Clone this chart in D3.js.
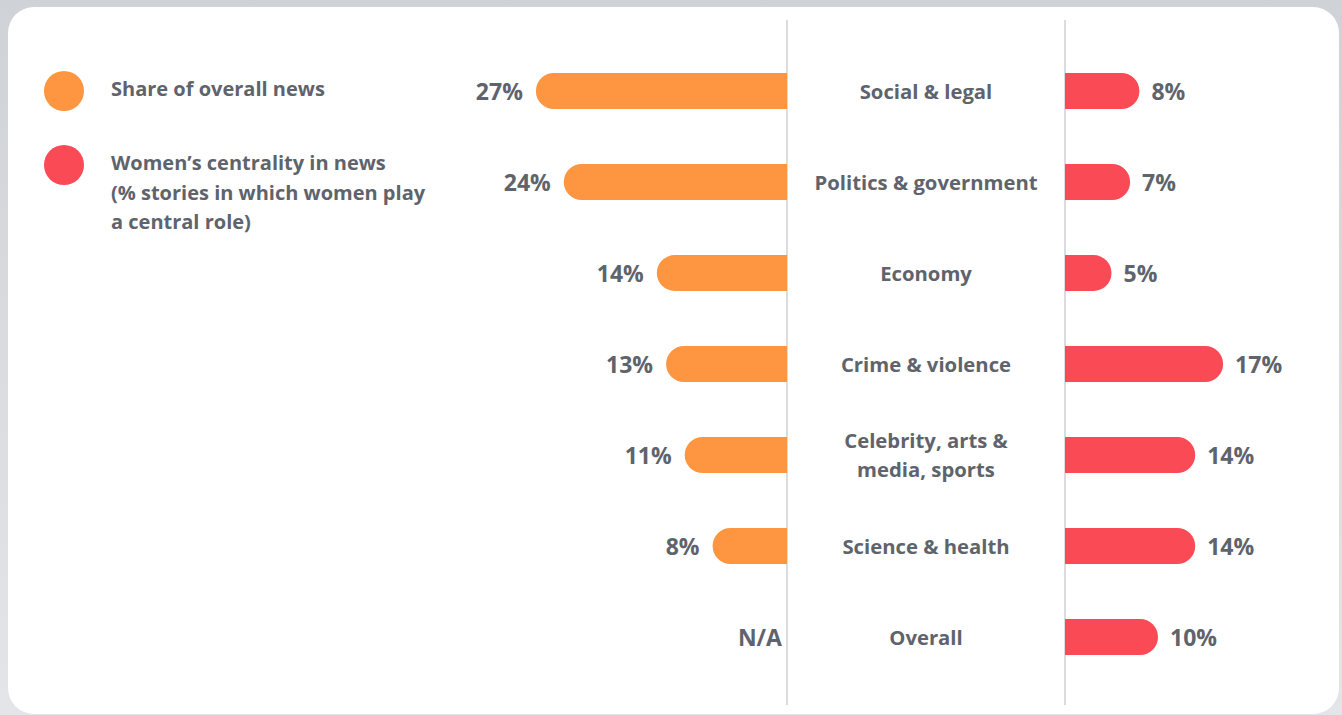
<!DOCTYPE html>
<html>
<head>
<meta charset="utf-8">
<script src="https://cdn.jsdelivr.net/npm/d3@7"></script>
<style>
  html, body { margin: 0; padding: 0; background: #d9dbde; }
  svg { display: block; }
  text { font-family: "Open Sans", Lato, sans-serif; font-weight: 700; fill: #5e636c; }
</style>
</head>
<body>
<svg id="chart" width="1342" height="715"></svg>
<script>
const categories = ["Social & legal", "Politics & government", "Economy", "Crime & violence", "Celebrity, arts &\nmedia, sports", "Science & health", "Overall"];
const shareOfNews = [27, 24, 14, 13, 11, 8, null];
const womenCentrality = [8, 7, 5, 17, 14, 14, 10];
const legendLabels = ["Share of overall news", "Women\u2019s centrality in news\n(% stories in which women play\na central role)"];
const naLabel = "N/A";

const colors = { share: "#fe9541", women: "#f94a56" };

const svg = d3.select("#chart");
const W = 1342, H = 715;

const defs = svg.append("defs");
const g1 = defs.append("linearGradient").attr("id", "bg").attr("x1", 0).attr("y1", 0).attr("x2", 0).attr("y2", 1);
g1.append("stop").attr("offset", "0%").attr("stop-color", "#cfd2d6");
g1.append("stop").attr("offset", "100%").attr("stop-color", "#e4e5e8");
svg.append("rect").attr("width", W).attr("height", H).attr("fill", "url(#bg)");
svg.append("rect").attr("x", 8).attr("y", 7).attr("width", 1331).attr("height", 707).attr("rx", 26).attr("fill", "#ffffff");

const leftAxisX = 787, rightAxisX = 1065;
const centerX = (leftAxisX + rightAxisX) / 2;

const y = d3.scalePoint().domain(d3.range(categories.length)).range([91, 637]);
const barH = 36;

const x = d3.scaleLinear().domain([0, 30]).range([0, 279]);

[leftAxisX, rightAxisX].forEach(lx => {
  svg.append("line").attr("x1", lx).attr("x2", lx).attr("y1", 20).attr("y2", 705)
    .attr("stroke", "#cfd1d4").attr("stroke-width", 1.5);
});

function leftBarPath(v, cy) {
  const w = x(v), r = barH / 2;
  const x0 = leftAxisX - w;
  return `M${leftAxisX},${cy - r} L${x0 + r},${cy - r} A${r},${r} 0 0 0 ${x0 + r},${cy + r} L${leftAxisX},${cy + r} Z`;
}
function rightBarPath(v, cy) {
  const w = x(v), r = barH / 2;
  const x1 = rightAxisX + w;
  return `M${rightAxisX},${cy - r} L${x1 - r},${cy - r} A${r},${r} 0 0 1 ${x1 - r},${cy + r} L${rightAxisX},${cy + r} Z`;
}

const rows = categories.map((c, i) => ({ c, i, s: shareOfNews[i], w: womenCentrality[i] }));

svg.selectAll(".lbar").data(rows.filter(d => d.s != null)).join("path")
  .attr("class", "lbar").attr("d", d => leftBarPath(d.s, y(d.i))).attr("fill", colors.share);
svg.selectAll(".llab").data(rows).join("text")
  .attr("class", "llab")
  .attr("x", d => d.s != null ? leftAxisX - x(d.s) - 13 : leftAxisX - 5)
  .attr("y", d => y(d.i) + 8.5)
  .attr("text-anchor", "end").attr("font-size", 23)
  .text(d => d.s != null ? d.s + "%" : naLabel);

svg.selectAll(".rbar").data(rows).join("path")
  .attr("class", "rbar").attr("d", d => rightBarPath(d.w, y(d.i))).attr("fill", colors.women);
svg.selectAll(".rlab").data(rows).join("text")
  .attr("class", "rlab")
  .attr("x", d => rightAxisX + x(d.w) + 12)
  .attr("y", d => y(d.i) + 8.5)
  .attr("text-anchor", "start").attr("font-size", 23)
  .text(d => d.w + "%");

rows.forEach(d => {
  const lines = d.c.split("\n");
  const lh = 29;
  const t = svg.append("text").attr("text-anchor", "middle").attr("font-size", 20.3)
    .attr("x", centerX);
  lines.forEach((ln, k) => {
    t.append("tspan").attr("x", centerX)
      .attr("y", y(d.i) + 7.5 + (k - (lines.length - 1) / 2) * lh).text(ln);
  });
});

const legendY = [91, 165];
const legendColors = [colors.share, colors.women];
legendLabels.forEach((lab, k) => {
  svg.append("circle").attr("cx", 64).attr("cy", legendY[k]).attr("r", 20).attr("fill", legendColors[k]);
  const t = svg.append("text").attr("font-size", 20).attr("x", 111);
  lab.split("\n").forEach((ln, j) => {
    t.append("tspan").attr("x", 111).attr("y", legendY[k] + 5 + j * 29.5).text(ln);
  });
});
</script>
</body>
</html>
